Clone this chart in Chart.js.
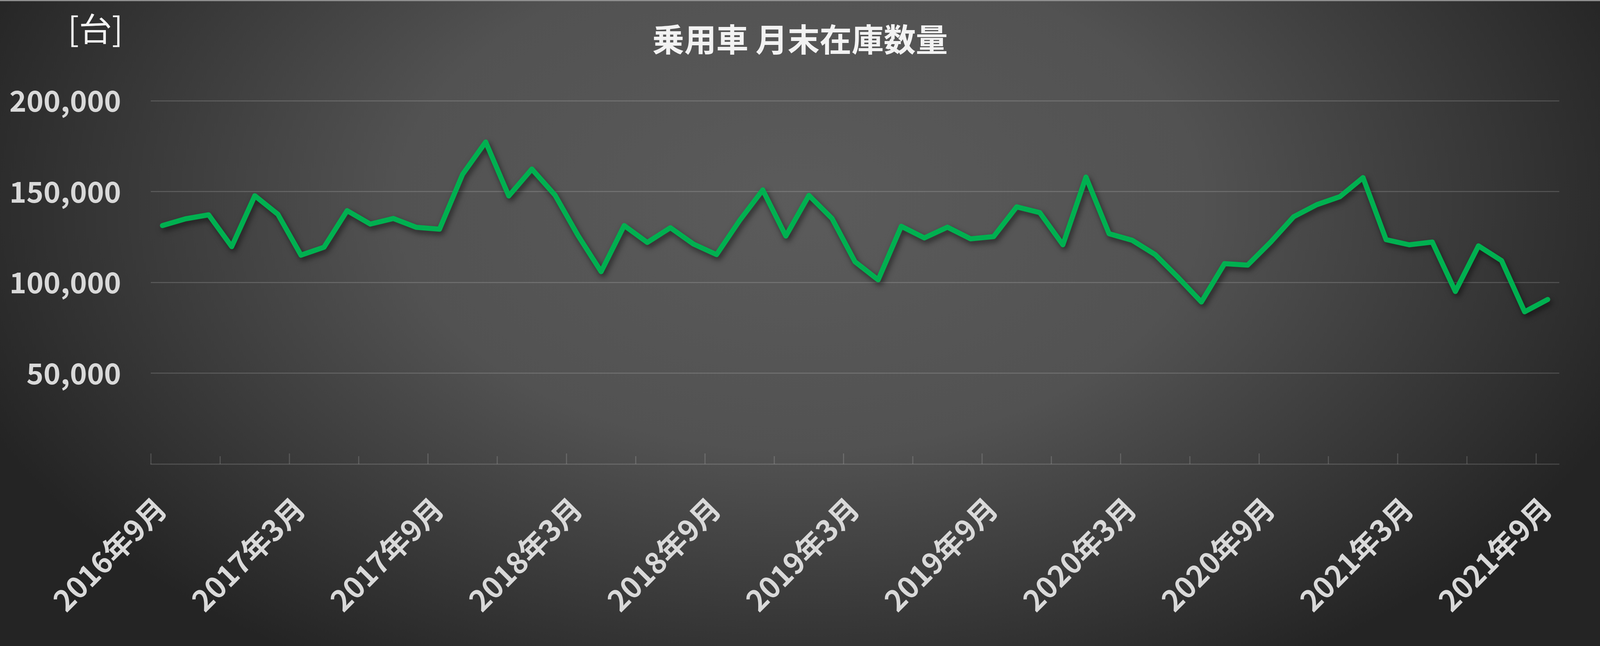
<!DOCTYPE html>
<html>
<head>
<meta charset="utf-8">
<script src="https://cdn.jsdelivr.net/npm/chart.js@4/dist/chart.umd.min.js"></script>
<style>
  html, body { margin: 0; padding: 0; overflow: hidden; background: #2b2b2b; }
  canvas { display: block; }
</style>
</head>
<body>
<canvas id="chart"></canvas>
<script>
// 月末在庫数量 (台) 2016年9月〜2021年9月
const months = [
  '2016年9月', '2016年10月', '2016年11月', '2016年12月',
  '2017年1月', '2017年2月', '2017年3月', '2017年4月', '2017年5月', '2017年6月',
  '2017年7月', '2017年8月', '2017年9月', '2017年10月', '2017年11月', '2017年12月',
  '2018年1月', '2018年2月', '2018年3月', '2018年4月', '2018年5月', '2018年6月',
  '2018年7月', '2018年8月', '2018年9月', '2018年10月', '2018年11月', '2018年12月',
  '2019年1月', '2019年2月', '2019年3月', '2019年4月', '2019年5月', '2019年6月',
  '2019年7月', '2019年8月', '2019年9月', '2019年10月', '2019年11月', '2019年12月',
  '2020年1月', '2020年2月', '2020年3月', '2020年4月', '2020年5月', '2020年6月',
  '2020年7月', '2020年8月', '2020年9月', '2020年10月', '2020年11月', '2020年12月',
  '2021年1月', '2021年2月', '2021年3月', '2021年4月', '2021年5月', '2021年6月',
  '2021年7月', '2021年8月', '2021年9月'
];

const stock = [
  131300, 135000, 137200, 119700, 147700, 137500, 115000, 119400, 139500, 132100,
  135200, 130300, 129300, 159500, 177300, 147600, 162400, 148100, 125800, 105900,
  131300, 122000, 130100, 121100, 115300, 134100, 150900, 125500, 147900, 135200,
  111300, 101400, 130900, 124500, 130400, 124000, 125200, 141600, 138400, 120700,
  158000, 126800, 123200, 115300, 102600, 89200, 110300, 109500, 122200, 136200,
  142800, 147200, 157700, 123500, 120700, 122200, 95000, 120100, 112000, 83800,
  90600
];

const yTicks = [0, 50000, 100000, 150000, 200000];
const labelEvery = 6;
const tickEvery = 3;

// the layout below was measured on a 4400x1654 picture; scale it to the window
const W = window.innerWidth || 4400;
const H = window.innerHeight || 1654;
const sx = W / 4400, sy = H / 1654, s = Math.min(sx, sy);

const FONT = "'Noto Sans CJK JP', 'Noto Sans', sans-serif";
const LINE_COLOR = '#00B050';
const GRID_COLOR = 'rgba(255,255,255,0.16)';

const canvas = document.getElementById('chart');
canvas.width = W;
canvas.height = H;
canvas.style.width = W + 'px';
canvas.style.height = H + 'px';

const background = {
  id: 'background',
  beforeDraw(chart) {
    const { ctx, width, height } = chart;
    ctx.save();
    const cx = width / 2, cy = 520 * sy;
    const rx = 2450 * sx, ry = 1400 * sy;
    ctx.translate(cx, cy);
    ctx.scale(1, ry / rx);
    const g = ctx.createRadialGradient(0, 0, 0, 0, 0, rx);
    g.addColorStop(0, '#5b5b5b');
    g.addColorStop(0.45, '#525252');
    g.addColorStop(1, '#242424');
    ctx.fillStyle = g;
    ctx.fillRect(-cx, -cy * rx / ry, width, height * rx / ry);
    ctx.restore();
    ctx.save();
    ctx.fillStyle = '#8f8f8f';
    ctx.fillRect(0, 0, width, 3 * sy);
    ctx.restore();
  }
};

// tick marks above the category axis: long every 6 months, short every 3
const axisTicks = {
  id: 'axisTicks',
  beforeDatasetsDraw(chart) {
    const { ctx } = chart;
    const x = chart.scales.x;
    const half = (x.getPixelForValue(1) - x.getPixelForValue(0)) / 2;
    ctx.save();
    ctx.strokeStyle = GRID_COLOR;
    ctx.lineWidth = 3 * s;
    for (let i = 0; i < months.length; i += tickEvery) {
      const px = x.getPixelForValue(i) - half;
      const len = (i % labelEvery === 0 ? 27 : 20) * sy;
      ctx.beginPath();
      ctx.moveTo(px, x.top);
      ctx.lineTo(px, x.top - len);
      ctx.stroke();
    }
    ctx.restore();
  }
};

const lineShadow = {
  id: 'lineShadow',
  beforeDatasetsDraw(chart) {
    const { ctx } = chart;
    ctx.save();
    ctx.shadowColor = 'rgba(0,0,0,0.55)';
    ctx.shadowBlur = 16 * s;
    ctx.shadowOffsetX = 5 * s;
    ctx.shadowOffsetY = 8 * s;
  },
  afterDatasetsDraw(chart) {
    chart.ctx.restore();
  }
};

const unitLabel = {
  id: 'unitLabel',
  afterDraw(chart) {
    const { ctx } = chart;
    ctx.save();
    ctx.font = `${Math.round(90 * s)}px ${FONT}`;
    ctx.fillStyle = '#F2F2F2';
    ctx.textAlign = 'right';
    ctx.textBaseline = 'middle';
    ctx.fillText('[台]', 338 * sx, 74 * sy);
    ctx.restore();
  }
};

new Chart(canvas, {
  type: 'line',
  data: {
    labels: months,
    datasets: [{
      label: '乗用車 月末在庫数量',
      data: stock,
      borderColor: LINE_COLOR,
      borderWidth: 14 * s,
      borderCapStyle: 'round',
      borderJoinStyle: 'round',
      pointRadius: 0,
      tension: 0,
      fill: false
    }]
  },
  options: {
    responsive: false,
    animation: false,
    layout: { padding: 0 },
    plugins: {
      legend: { display: false },
      tooltip: { enabled: false },
      title: {
        display: true,
        text: '乗用車 月末在庫数量',
        color: '#F2F2F2',
        font: { family: FONT, size: Math.round(88 * s), weight: 'bold', lineHeight: 1.2 },
        padding: { top: 52 * sy, bottom: 258 * sy - 52 * sy - Math.round(88 * s) * 1.2 }
      }
    },
    scales: {
      x: {
        type: 'category',
        offset: true,
        grid: { display: false, offset: true },
        border: { display: true, color: GRID_COLOR, width: 3 * s },
        ticks: {
          autoSkip: false,
          minRotation: 45,
          maxRotation: 45,
          padding: 60 * sy,
          labelOffset: -4 * sx,
          color: '#D9D9D9',
          font: { family: FONT, size: Math.round(81 * s), weight: 'bold' },
          callback: (v, i) => (i % labelEvery === 0 ? months[i] : '')
        },
        afterFit: (scale) => {
          scale.height = 466 * sy;
          scale.paddingRight = 112 * sx;
        }
      },
      y: {
        min: yTicks[0],
        max: yTicks[yTicks.length - 1],
        afterBuildTicks: (scale) => { scale.ticks = yTicks.map(v => ({ value: v })); },
        grid: {
          color: (c) => (c.tick && c.tick.value === 0 ? 'rgba(0,0,0,0)' : GRID_COLOR),
          lineWidth: 3 * s,
          drawTicks: false
        },
        border: { display: false },
        ticks: {
          padding: 82 * sx,
          color: '#D9D9D9',
          font: { family: FONT, size: Math.round(80 * s), weight: 'bold' },
          callback: (v) => (v === 0 ? '' : v.toLocaleString('en-US'))
        },
        afterFit: (scale) => { scale.width = 415 * sx; }
      }
    }
  },
  plugins: [background, axisTicks, lineShadow, unitLabel]
});
</script>
</body>
</html>
